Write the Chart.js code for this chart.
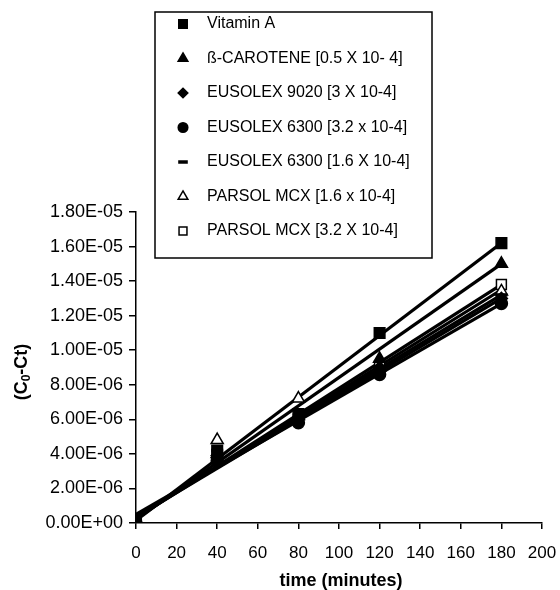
<!DOCTYPE html>
<html lang="en">
<head>
  <meta charset="UTF-8" />
  <title>C0-Ct vs time</title>
  <script src="https://cdn.jsdelivr.net/npm/chart.js"></script>
  <style>
    html, body { margin: 0; padding: 0; background: #fff; }
    #wrap { position: relative; width: 560px; height: 590px; }
  </style>
</head>
<body>
  <div id="wrap"><canvas id="chart" width="560" height="590"></canvas></div>

  <script>
    // sampling times (minutes)
    const times = [0, 40, 80, 120, 180];

    const seriesNames = [
      'Vitamin A',
      'ß-CAROTENE [0.5 X 10- 4]',
      'EUSOLEX 9020 [3 X 10-4]',
      'EUSOLEX 6300 [3.2 x 10-4]',
      'EUSOLEX 6300 [1.6 X 10-4]',
      'PARSOL MCX [1.6 x 10-4]',
      'PARSOL MCX [3.2 X 10-4]'
    ];

    // measured (C0-Ct) values
    const vitaminA   = [0, 4.2e-6, 6.3e-6, 1.10e-5, 1.62e-5];
    const betaCarot  = [0, 4.0e-6, 6.2e-6, 9.5e-6, 1.50e-5];
    const eus9020    = [0, 3.9e-6, 6.1e-6, 9.0e-6, 1.30e-5];
    const eus6300hi  = [0, 3.6e-6, 5.8e-6, 8.6e-6, 1.27e-5];
    const eus6300lo  = [0, 4.2e-6, 6.0e-6, 8.9e-6, 1.32e-5];
    const parsolLo   = [0, 4.8e-6, 7.2e-6, 9.0e-6, 1.34e-5];
    const parsolHi   = [0, 3.8e-6, 6.0e-6, 9.1e-6, 1.38e-5];

    // linear trend lines, value at t = 0 and t = 180
    const trendX     = [0, 180];
    const trendStart = [1.5e-7, 2.0e-7, 3.5e-7, 5.0e-7, 4.0e-7, 3.0e-7, 3.0e-7];
    const trendEnd   = [1.62e-5, 1.50e-5, 1.30e-5, 1.27e-5, 1.32e-5, 1.35e-5, 1.38e-5];

    const yTicks = [0, 2e-6, 4e-6, 6e-6, 8e-6, 1e-5, 1.2e-5, 1.4e-5, 1.6e-5, 1.8e-5];

    const allValues = [vitaminA, betaCarot, eus9020, eus6300hi, eus6300lo, parsolLo, parsolHi];

    const markers = [
      { style: 'rect',     radius: 7.5, fill: '#000' },
      { style: 'triangle', radius: 7,   fill: '#000' },
      { style: 'rectRot',  radius: 6,   fill: '#000' },
      { style: 'circle',   radius: 6,   fill: '#000' },
      { style: 'line',     radius: 6,   fill: '#000' },
      { style: 'triangle', radius: 7,   fill: '#fff' },
      { style: 'rect',     radius: 7,   fill: '#fff' }
    ];

    const FONT = "Arial, 'Liberation Sans', sans-serif";
    Chart.defaults.font.family = FONT;
    Chart.defaults.color = '#000';

    const datasets = [];
    allValues.forEach((vals, i) => {
      const m = markers[i];
      datasets.push({
        label: seriesNames[i],
        data: times.map((t, j) => ({ x: t, y: vals[j] })),
        showLine: false,
        pointStyle: m.style,
        pointRadius: m.radius,
        pointHoverRadius: m.radius,
        pointBackgroundColor: m.fill,
        pointBorderColor: '#000',
        pointBorderWidth: m.style === 'line' ? 3.5 : 1.5,
        order: 1
      });
      datasets.push({
        label: seriesNames[i] + ' trend',
        data: trendX.map((t, j) => ({ x: t, y: j === 0 ? trendStart[i] : trendEnd[i] })),
        showLine: true,
        borderColor: '#000',
        borderWidth: 3.2,
        pointRadius: 0,
        order: 2
      });
    });

    function fmtExp(v) {
      if (Math.abs(v) < 1e-12) return '0.00E+00';
      const s = v.toExponential(2).toUpperCase();
      const [mant, ex] = s.split('E');
      const sign = ex[0] === '-' ? '-' : '+';
      const digits = ex.replace(/[+-]/, '').padStart(2, '0');
      return mant + 'E' + sign + digits;
    }

    function drawMarker(ctx, style, x, y, r, fill) {
      ctx.save();
      ctx.fillStyle = fill;
      ctx.strokeStyle = '#000';
      ctx.lineWidth = 1.5;
      ctx.beginPath();
      if (style === 'rect') {
        const s = r / Math.SQRT2;
        ctx.rect(x - s, y - s, 2 * s, 2 * s);
      } else if (style === 'triangle') {
        ctx.moveTo(x, y - r);
        ctx.lineTo(x + r * 0.866, y + r * 0.5);
        ctx.lineTo(x - r * 0.866, y + r * 0.5);
        ctx.closePath();
      } else if (style === 'rectRot') {
        ctx.moveTo(x, y - r);
        ctx.lineTo(x + r, y);
        ctx.lineTo(x, y + r);
        ctx.lineTo(x - r, y);
        ctx.closePath();
      } else if (style === 'circle') {
        ctx.arc(x, y, r, 0, Math.PI * 2);
      } else if (style === 'line') {
        ctx.lineWidth = 3.5;
        ctx.moveTo(x - r, y);
        ctx.lineTo(x + r, y);
        ctx.stroke();
        ctx.restore();
        return;
      }
      ctx.fill();
      ctx.stroke();
      ctx.restore();
    }

    const decorations = {
      id: 'decorations',
      afterDraw(chart) {
        const ctx = chart.ctx;
        const area = chart.chartArea;

        // legend box
        ctx.save();
        ctx.fillStyle = '#fff';
        ctx.strokeStyle = '#000';
        ctx.lineWidth = 1.5;
        ctx.fillRect(155, 12, 277, 246);
        ctx.strokeRect(155, 12, 277, 246);
        ctx.font = '16px ' + FONT;
        ctx.fillStyle = '#000';
        ctx.textBaseline = 'middle';
        seriesNames.forEach((name, i) => {
          const y = 24 + i * 34.5;
          const m = markers[i];
          drawMarker(ctx, m.style, 183, y, m.radius * 0.8, m.fill);
          ctx.fillStyle = '#000';
          ctx.fillText(name, 207, y);
        });
        ctx.restore();

        // axis titles
        ctx.save();
        ctx.fillStyle = '#000';
        ctx.font = 'bold 18px ' + FONT;
        ctx.textAlign = 'center';
        ctx.textBaseline = 'middle';
        ctx.fillText('time (minutes)', (area.left + area.right) / 2 + 2, 581);

        ctx.translate(22, 372);
        ctx.rotate(-Math.PI / 2);
        const big = 'bold 18px ' + FONT, small = 'bold 12px ' + FONT;
        ctx.font = big;
        const w1 = ctx.measureText('(C').width;
        const w3 = ctx.measureText('-Ct)').width;
        ctx.font = small;
        const w2 = ctx.measureText('0').width;
        let x = -(w1 + w2 + w3) / 2;
        ctx.textAlign = 'left';
        ctx.font = big;
        ctx.fillText('(C', x, 0);
        x += w1;
        ctx.font = small;
        ctx.fillText('0', x, 5);
        x += w2;
        ctx.font = big;
        ctx.fillText('-Ct)', x, 0);
        ctx.restore();
      }
    };

    new Chart(document.getElementById('chart'), {
      type: 'scatter',
      data: { datasets },
      options: {
        responsive: false,
        animation: false,
        layout: { padding: { top: 212, right: 18, left: 0, bottom: 0 } },
        plugins: {
          legend: { display: false },
          tooltip: { enabled: false }
        },
        scales: {
          x: {
            type: 'linear',
            min: 0,
            max: 200,
            ticks: { stepSize: 20, font: { size: 17 }, color: '#000', padding: 14 },
            grid: { display: true, drawOnChartArea: false, drawTicks: true, tickLength: 6, color: '#000', lineWidth: 1.5 },
            border: { display: true, color: '#000', width: 1.5 },
            afterFit(scale) {
              scale.height = 67;
              scale.paddingRight = 0;
              scale.paddingLeft = 0;
            }
          },
          y: {
            type: 'linear',
            min: 0,
            max: 1.8e-5,
            afterBuildTicks(scale) { scale.ticks = yTicks.map(v => ({ value: v })); },
            ticks: { font: { size: 18 }, color: '#000', padding: 6, callback: v => fmtExp(v) },
            grid: { display: true, drawOnChartArea: false, drawTicks: true, tickLength: 7, color: '#000', lineWidth: 1.5 },
            border: { display: true, color: '#000', width: 1.5 },
            afterFit(scale) { scale.width = 136; }
          }
        }
      },
      plugins: [decorations]
    });
  </script>
</body>
</html>
